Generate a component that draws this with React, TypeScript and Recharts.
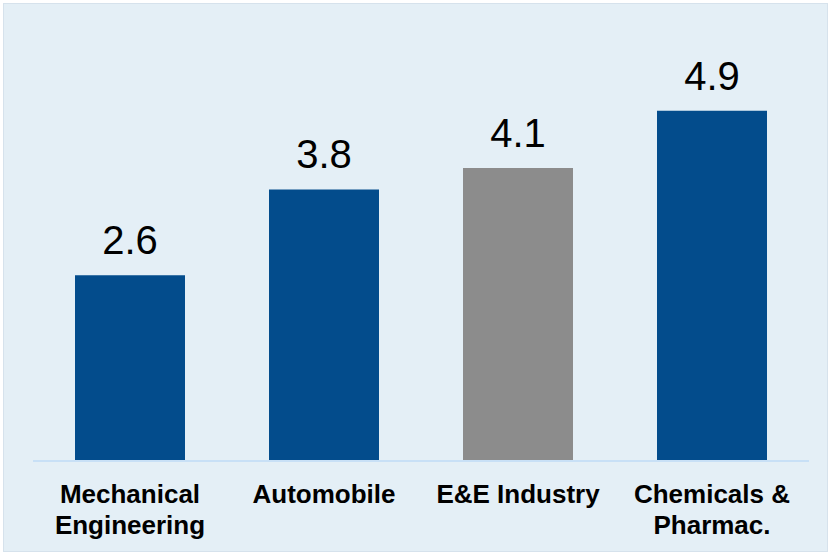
import React from "react";
import { BarChart, Bar, XAxis, YAxis, LabelList, Cell } from "recharts";

const categories = ["Mechanical Engineering", "Automobile", "E&E Industry", "Chemicals & Pharmac."];
const tickLines = [["Mechanical", "Engineering"], ["Automobile"], ["E&E Industry"], ["Chemicals &", "Pharmac."]];
const values = [2.6, 3.8, 4.1, 4.9];
const barColors = ["#034c8c", "#034c8c", "#8c8c8c", "#034c8c"];

const data = categories.map((c, i) => ({ name: c, value: values[i], idx: i }));

const FONT = '"Liberation Sans", Arial, sans-serif';

const Tick = (props: any) => {
  const { x, y, index } = props;
  const lines = tickLines[index] || [];
  return (
    <text x={x} y={y} textAnchor="middle" fontFamily={FONT} fontWeight="bold" fontSize={26} fill="#000">
      {lines.map((l, i) => (
        <tspan key={i} x={x} y={y + 34 + i * 31}>
          {l}
        </tspan>
      ))}
    </text>
  );
};

export default function App() {
  return (
    <div style={{ position: "fixed", left: 0, top: 0, width: 830, height: 552, background: "#ffffff" }}>
      <div
        style={{
          position: "absolute",
          left: 3,
          top: 3,
          width: 825,
          height: 549,
          background: "#e4eff6",
          border: "1px solid #d6e2ec",
          boxSizing: "border-box",
        }}
      />
      <div style={{ position: "absolute", left: 0, top: 0 }}>
        <BarChart width={830} height={552} data={data} margin={{ top: 68, right: 21, left: 33, bottom: 0 }}>
          <YAxis hide domain={[0, 5.5]} />
          <XAxis
            dataKey="name"
            height={91}
            interval={0}
            tickLine={false}
            axisLine={{ stroke: "#c8e0f6", strokeWidth: 2 }}
            tick={<Tick />}
          />
          <Bar dataKey="value" barSize={110} isAnimationActive={false}>
            {data.map((d, i) => (
              <Cell key={i} fill={barColors[i]} />
            ))}
            <LabelList dataKey="value" position="top" offset={21} fontSize={40} fill="#000" fontFamily={FONT} formatter={(v: any) => Number(v).toFixed(1)} />
          </Bar>
        </BarChart>
      </div>
    </div>
  );
}
